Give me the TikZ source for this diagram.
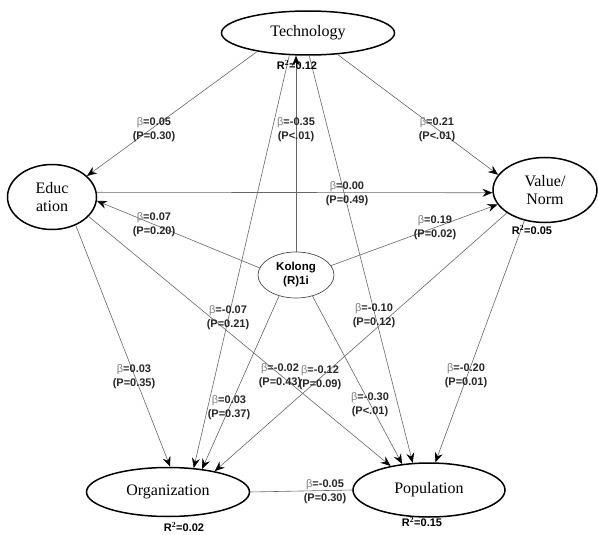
\documentclass[tikz,border=0pt]{standalone}
\usepackage{fontspec}
\setmainfont{Liberation Serif}
\newfontfamily\lsans{Liberation Sans}
\usetikzlibrary{arrows.meta,shapes.geometric}
\newcommand{\bb}{{\mdseries\color{black!50}β}}
\begin{document}
\begin{tikzpicture}[x=1pt,y=-1pt,
  var/.style={ellipse,draw=black,line width=1.5pt,inner sep=0pt,font=\fontsize{16}{18}\selectfont,align=center},
  kolbox/.style={ellipse,draw=black!70,line width=0.7pt,inner sep=0pt,font=\lsans\bfseries\fontsize{11.5}{14}\selectfont,align=center},
  conn/.style={draw=black!60,line width=0.6pt,-{Stealth[length=10pt,width=8pt,inset=3.5pt,color=black]}},
  plainconn/.style={draw=black!60,line width=0.6pt},
  coef/.style={font=\lsans\bfseries\fontsize{11}{14}\selectfont,text=black!85,align=center,inner sep=0pt},
  rsq/.style={font=\lsans\bfseries\fontsize{11}{13}\selectfont,inner sep=0pt}
]
\useasboundingbox (0,0) rectangle (598,535);

\node[var,minimum width=173pt,minimum height=44pt] (tech) at (308,33) {Technology};
\node[var,minimum width=89pt,minimum height=65pt] (edu) at (52,197) {Educ\\ation};
\node[var,minimum width=104pt,minimum height=65pt] (val) at (545,190) {Value/\\Norm};
\node[kolbox,minimum width=76pt,minimum height=46pt] (kol) at (296,275) {Kolong\\(R)1i};
\node[var,minimum width=163pt,minimum height=49pt] (org) at (168,492) {Organization};
\node[var,minimum width=152pt,minimum height=54pt] (pop) at (429,490) {Population};

% connectors
\draw[conn] (tech.200.8) -- (edu.31.4);
\draw[conn] (tech.-36) -- (val.162);
\draw[conn] (edu.6) -- (val.183);
\draw[conn] (kol.169) -- (edu.-5);
\draw[conn] (kol.15) -- (val.197);
\draw[conn] (kol.north) -- (kol.north |- tech.south);
\draw[conn] (kol.231) -- (org.34.4);
\draw[conn] (kol.-52) -- (pop.136);
\draw[conn] (edu.-50) -- (org.85);
\draw[conn] (edu.-28) -- (pop.148.6);
\draw[conn] (val.211) -- (org.24.2);
\draw[conn] (val.236) -- (pop.77);
\draw[plainconn] (org.east) -- (pop.west);
\draw[conn] (tech.230.4) -- (org.43.8);
\draw[conn] (tech.-87.5) -- (pop.121);

% coefficients
\node[coef] (c1) at (154,130) {\bb=0.05\\(P=0.30)};
\node[coef] (c2) at (296,130) {\bb=-0.35\\(P<.01)};
\node[coef] (c3) at (437,130) {\bb=0.21\\(P<.01)};
\node[coef] (c4) at (347,194) {\bb=0.00\\(P=0.49)};
\node[coef] (c5) at (154,225) {\bb=0.07\\(P=0.20)};
\node[coef] (c6) at (435,228) {\bb=0.19\\(P=0.02)};
\node[coef] (c7) at (228,318) {\bb=-0.07\\(P=0.21)};
\node[coef] (c8) at (374,316) {\bb=-0.10\\(P=0.12)};
\node[coef] (c9) at (134,377) {\bb=0.03\\(P=0.35)};
\node[coef] (c10) at (280,376) {\bb=-0.02\\(P=0.43)};
\node[coef] (c11) at (320,378) {\bb=-0.12\\(P=0.09)};
\node[coef] (c12) at (229,408) {\bb=0.03\\(P=0.37)};
\node[coef] (c13) at (370,405) {\bb=-0.30\\(P<.01)};
\node[coef] (c14) at (466,376) {\bb=-0.20\\(P=0.01)};
\node[coef] (c15) at (325,492) {\bb=-0.05\\(P=0.30)};

% R squared
\node[rsq] (r1) at (297,65) {R$^{\mathbf{2}}$=0.12};
\node[rsq] (r2) at (532,230) {R$^{\mathbf{2}}$=0.05};
\node[rsq] (r3) at (184,527) {R$^{\mathbf{2}}$=0.02};
\node[rsq] (r4) at (422,522) {R$^{\mathbf{2}}$=0.15};
\end{tikzpicture}
\end{document}
